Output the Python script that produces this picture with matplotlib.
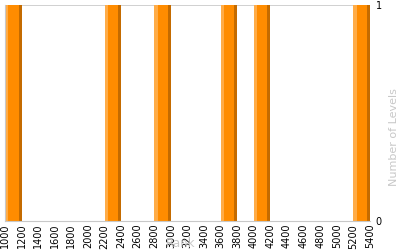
import numpy as np
import matplotlib
matplotlib.use("Agg")
import matplotlib.pyplot as plt

# histogram bins (rank, width 200) and counts
bin_starts = [1000, 2200, 2800, 3600, 4000, 5200]
counts = [1, 1, 1, 1, 1, 1]
bin_width = 200
ticks = list(range(1000, 5401, 200))

fig = plt.figure(figsize=(4, 2.5), dpi=100)
ax = fig.add_axes([0.0125, 0.116, 0.9125, 0.864])

light = 42
dark = 36
x = np.array(bin_starts)
h = np.array(counts)
ax.bar(x, h, width=light, align="edge", color="#FFAC47", linewidth=0)
ax.bar(x + light, h, width=bin_width - light - dark, align="edge", color="#FF8C00", linewidth=0)
ax.bar(x + bin_width - dark, h, width=dark, align="edge", color="#C46B00", linewidth=0)

ax.set_xlim(1000, 5400)
ax.set_ylim(0, 1)
ax.axhline(1, color="#c8c8c8", linewidth=1.2, zorder=0)

ax.set_xticks(ticks)
ax.set_xticklabels([str(t) for t in ticks], rotation=90, fontsize=7)
ax.set_yticks([0, 1])
ax.yaxis.tick_right()
ax.yaxis.set_label_position("right")
ax.tick_params(axis="both", length=0, pad=2, labelsize=7)
ax.tick_params(axis="y", pad=4)
ax.set_ylabel("Number of Levels", color="#c8c8c8", fontsize=8)
ax.yaxis.set_label_coords(1.052, 0.39)
ax.set_xlabel("Rank", color="#c8c8c8", fontsize=8.5)
ax.xaxis.set_label_coords(0.48, -0.075)

for s in ["top", "right"]:
    ax.spines[s].set_visible(False)
for s in ["left", "bottom"]:
    ax.spines[s].set_color("#c8c8c8")

fig.savefig("out.png", dpi=100)
